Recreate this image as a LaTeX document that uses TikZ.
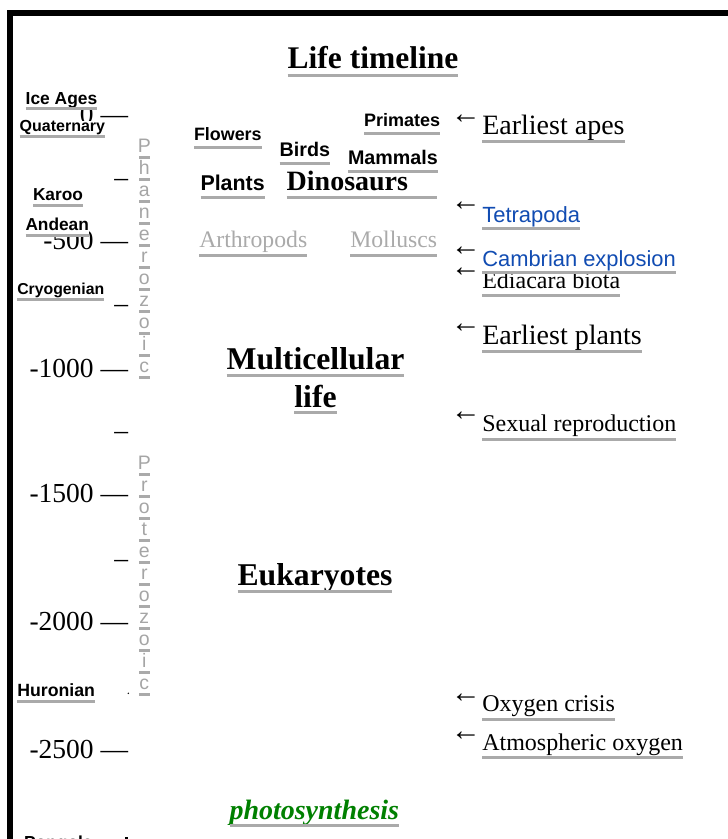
\documentclass[tikz,border=0pt]{standalone}
\usepackage{fontspec}
\setmainfont{Liberation Serif}
\setsansfont{Liberation Sans}
\definecolor{ulgray}{RGB}{170,170,170}
\definecolor{lettergray}{RGB}{165,165,165}
\definecolor{linkblue}{RGB}{17,76,178}
\definecolor{leafgreen}{RGB}{0,128,0}
\tikzset{
  lbl/.style={inner sep=0pt, outer sep=0pt, fill=white, anchor=base west},
  ulline/.style={draw=ulgray, line width=3pt},
  sansb/.style={font=\sffamily\bfseries\fontsize{#1}{#1}\selectfont},
  sansr/.style={font=\sffamily\fontsize{#1}{#1}\selectfont},
  serifr/.style={font=\rmfamily\fontsize{#1}{#1}\selectfont},
  serifb/.style={font=\rmfamily\bfseries\fontsize{#1}{#1}\selectfont},
  serifbi/.style={font=\rmfamily\bfseries\itshape\fontsize{#1}{#1}\selectfont},
  axlbl/.style={font=\rmfamily\fontsize{27.5}{27.5}\selectfont, inner sep=0pt, anchor=base east},
  arr/.style={font=\rmfamily\fontsize{30}{30}\selectfont, inner sep=0pt},
  vlet/.style={font=\sffamily\fontsize{19.5}{19.5}\selectfont, text=lettergray, inner sep=0pt, anchor=base},
  frame/.style={line width=6pt, draw=black}
}
% #1 extra underline, #2 name, #3 position, #4 style, #5 underline offset, #6 text
\newcommand\lbl[6][0]{%
  \pgfmathsetmacro\uldep{#5+1.5}%
  \node[lbl,#4,text depth=\uldep pt] (#2) at (#3) {#6};%
  \draw[ulline] ([yshift=-#5pt]#2.base west) -- ([yshift=-#5pt,xshift=#1pt]#2.base east);%
}
\begin{document}
\begin{tikzpicture}[x=1pt,y=-1pt]
\useasboundingbox (0,0) rectangle (728,839);
% frame
\draw[frame] (9.7,900) -- (9.7,13) -- (800,13);
% axis
\node[axlbl] (t0) at (128.3,123.2) {0 —};
\node[axlbl] (t500) at (128.3,249.5) {-500 —};
\node[axlbl] (t1000) at (128.3,377.5) {-1000 —};
\node[axlbl] (t1500) at (128.3,502.5) {-1500 —};
\node[axlbl] (t2000) at (128.3,630) {-2000 —};
\node[axlbl] (t2500) at (128.3,758) {-2500 —};
\node[axlbl] (s250) at (128.3,186) {–};
\node[axlbl] (s750) at (128.3,312.5) {–};
\node[axlbl] (s1250) at (128.3,439) {–};
\node[axlbl] (s1750) at (128.3,567.5) {–};
\fill[black] (128.3,693.3) circle (0.8);
\fill[black] (125,837.3) rectangle (128.3,839);
% vertical eon names
\foreach \ch [count=\i from 0] in {P,h,a,n,e,r,o,z,o,i,c} {
  \node[vlet] (ph\i) at (144.3,{152+22*\i}) {\ch};
  \draw[ulline] (139.3,{157+22*\i}) -- (149.5,{157+22*\i});
}
\foreach \ch [count=\i from 0] in {P,r,o,t,e,r,o,z,o,i,c} {
  \node[vlet] (pr\i) at (144.3,{469.5+22*\i}) {\ch};
  \draw[ulline] (139.3,{474+22*\i}) -- (149.5,{474+22*\i});
}
% left glaciation labels
\lbl{ice}{25.7,104}{sansb=17.4}{4.7}{Ice Ages}
\lbl{quat}{19.7,131.7}{sansb=16}{4.3}{Quaternary}
\lbl{karoo}{33,200}{sansb=17.3}{5}{Karoo}
\lbl{andean}{25.5,230}{sansb=17.3}{5}{Andean}
\lbl{cryo}{17.3,294}{sansb=15.8}{5}{Cryogenian}
\lbl{huron}{17.3,696.7}{sansb=17.7}{4.3}{Huronian}
\lbl{pong}{24,848}{sansb=17.4}{5}{Pongola}
% title
\lbl{title}{373,68}{serifb=31.5,anchor=base}{7}{Life timeline}
% middle column
\lbl{prim}{364,126}{sansb=18}{7.3}{Primates}
\lbl{flow}{194,140}{sansb=17.9}{7.3}{Flowers}
\lbl{birds}{279.7,156}{sansb=19.7}{7.3}{Birds}
\lbl[28.6]{dino}{286.7,190}{serifb=28}{7.3}{Dinosaurs}
\lbl{mamm}{348,164}{sansb=19.7}{7}{Mammals}
\lbl{plants}{200.5,190.7}{sansb=21.4}{6.6}{Plants}
\lbl{arth}{199.3,247.3}{serifr=23.7,text=ulgray}{7.7}{Arthropods}
\lbl{moll}{350.3,247.3}{serifr=23.7,text=ulgray}{7.7}{Molluscs}
\lbl{multi}{315.5,369.3}{serifb=31.7,anchor=base}{5.7}{Multicellular}
\lbl{life}{315.5,407.3}{serifb=31.7,anchor=base}{5.4}{life}
\lbl{euk}{315,585}{serifb=31.7,anchor=base}{6.7}{Eukaryotes}
\lbl{photo}{314.3,819.3}{serifbi=28,text=leafgreen,anchor=base}{6}{photosynthesis}
% right column events
\lbl{apes}{482.3,134.3}{serifr=28}{6.7}{Earliest apes}
\lbl{tetra}{482.3,222.3}{sansr=22,text=linkblue}{6}{Tetrapoda}
\lbl{edia}{482.3,288.3}{serifr=24}{6.7}{Ediacara biota}
\lbl{camb}{482.3,266}{sansr=21.9,text=linkblue}{6.7}{Cambrian explosion}
\lbl{eplants}{482.3,344}{serifr=28}{7}{Earliest plants}
\lbl{sex}{482.3,431.7}{serifr=24}{7.3}{Sexual reproduction}
\lbl{oxcr}{482.3,711.7}{serifr=24}{7.3}{Oxygen crisis}
\lbl{atm}{482.3,750}{serifr=24}{7.3}{Atmospheric oxygen}
% arrows
\node[arr] (a1) at (465.8,119.3) {←};
\node[arr] (a2) at (465.8,206.7) {←};
\node[arr] (a3) at (465.8,251) {←};
\node[arr] (a4) at (465.8,272.7) {←};
\node[arr] (a5) at (465.8,328.3) {←};
\node[arr] (a6) at (465.8,416) {←};
\node[arr] (a7) at (465.8,698.3) {←};
\node[arr] (a8) at (465.8,736.7) {←};
\end{tikzpicture}
\end{document}
